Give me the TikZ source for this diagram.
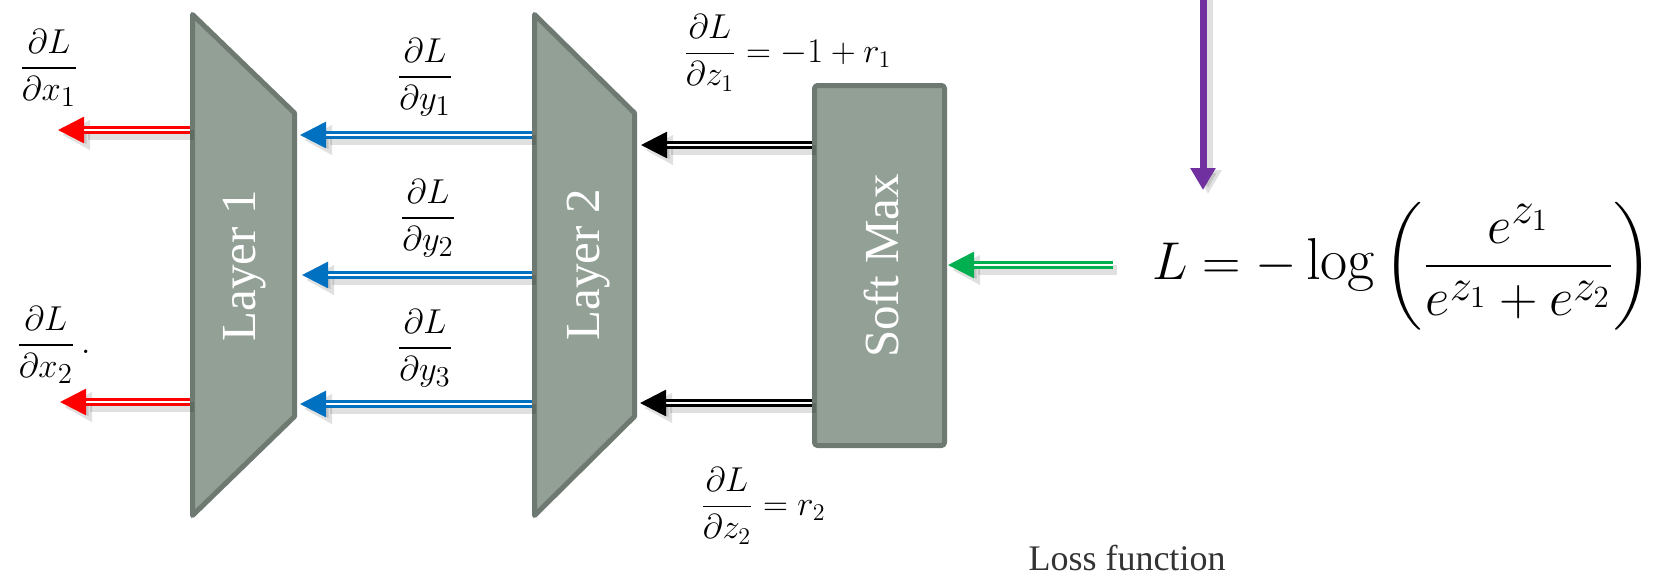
\documentclass[tikz,border=0pt]{standalone}
\usepackage{fontspec}
\usepackage{amsmath}
\usepackage{graphicx}
\newfontfamily\tnr{Liberation Serif}
\usetikzlibrary{arrows.meta}
\definecolor{layfill}{HTML}{92A096}
\definecolor{laydraw}{HTML}{6E7A71}
\definecolor{ared}{HTML}{FF0000}
\definecolor{ablue}{HTML}{0070C0}
\definecolor{agreen}{HTML}{00B050}
\definecolor{apurple}{HTML}{7030A0}
\definecolor{losstext}{HTML}{333333}
\begin{document}
\begin{tikzpicture}[x=0.5pt,y=-0.5pt,
  layer/.style={fill=layfill,draw=laydraw,line width=2.5pt,line join=round},
  laylabel/.style={rotate=90,text=white,inner sep=0pt,font=\tnr\fontsize{24.5}{27}\selectfont},
  dbl/.style={double=white,line width=1.35pt,double distance=1.3pt,-{Triangle[length=13pt,width=13pt]}},
  shad/.style={draw=black,opacity=0.12,line width=5pt,-{Triangle[length=14pt,width=14pt]}},
  lab/.style={inner sep=0pt,font=\fontsize{19}{22}\selectfont},
]
\useasboundingbox (0,0) rectangle (1665,575);

% layers
\draw[layer] (192.5,14.5) -- (294.5,113) -- (294.5,416.5) -- (192.5,515.5) -- cycle;
\draw[layer] (534.5,14.5) -- (634.5,113) -- (634.5,416.5) -- (534.5,515.5) -- cycle;
\node[laylabel] (l1) at (245,266) {Layer 1};
\node[laylabel] (l2) at (589,265) {Layer 2};
\node[layer,rounded corners=1.5pt,minimum width=65pt,minimum height=180pt,inner sep=0pt] (sm) at (879.5,265.5) {};
\node[laylabel] (smlab) at (881,266) {Soft Max};

% connector end points
\coordinate (l1L1) at (190,130);  \coordinate (o1) at (58,130);
\coordinate (l1L2) at (190,402);  \coordinate (o2) at (60,402);
\coordinate (l2L1) at (532,135);  \coordinate (l1R1) at (300,135);
\coordinate (l2L2) at (532,275);  \coordinate (l1R2) at (302,275);
\coordinate (l2L3) at (532,404);  \coordinate (l1R3) at (300,404);
\coordinate (smW1) at (812,145);  \coordinate (l2R1) at (641,145);
\coordinate (smW2) at (812,403);  \coordinate (l2R2) at (640,403);
\coordinate (gst) at (1113,265);  \coordinate (smE) at (948,265);
\coordinate (ptop) at (1203,-10); \coordinate (ptip) at (1203,190);

% shadows
\foreach \a/\b in {l1L1/o1,l1L2/o2,l2L1/l1R1,l2L2/l1R2,l2L3/l1R3,smW1/l2R1,smW2/l2R2,gst/smE}{
  \draw[shad] ([shift={(4,5)}]\a) -- ([shift={(4,5)}]\b);
}
\draw[draw=black,opacity=0.12,line width=4.5pt,-{Triangle[length=12pt,width=13pt]}] ([shift={(5,4)}]ptop) -- ([shift={(5,4)}]ptip);

% arrows
\draw[dbl,ared] (l1L1) -- (o1);
\draw[dbl,ared] (l1L2) -- (o2);
\draw[dbl,ablue] (l2L1) -- (l1R1);
\draw[dbl,ablue] (l2L2) -- (l1R2);
\draw[dbl,ablue] (l2L3) -- (l1R3);
\draw[dbl,black] (smW1) -- (l2R1);
\draw[dbl,black] (smW2) -- (l2R2);
\draw[dbl,agreen] (gst) -- (smE);
\draw[apurple,line width=3.5pt,-{Triangle[length=11pt,width=12pt]}] (ptop) -- (ptip);

% labels
\node[lab] (dx1) at (49,68) {$\dfrac{\partial L}{\partial x_1}$};
\node[lab,anchor=west] (dx2) at (16,345) {$\dfrac{\partial L}{\partial x_2}\,.$};
\node[lab] (dy1) at (425,77) {$\dfrac{\partial L}{\partial y_1}$};
\node[lab] (dy2) at (428,218) {$\dfrac{\partial L}{\partial y_2}$};
\node[lab] (dy3) at (425,348) {$\dfrac{\partial L}{\partial y_3}$};
\node[lab,anchor=west,font=\fontsize{18.5}{22}\selectfont] (dz1) at (683,53) {$\dfrac{\partial L}{\partial z_1} = -1 + r_1$};
\node[lab,anchor=west,font=\fontsize{18.5}{22}\selectfont] (dz2) at (700,506) {$\dfrac{\partial L}{\partial z_2} = r_2$};
\node[anchor=west,inner sep=0pt,font=\fontsize{27.6}{32}\selectfont] (loss) at (1152,266)
  {\scalebox{1.07}{$\displaystyle L = -\log\left(\frac{e^{z_1}}{e^{z_1}+e^{z_2}}\right)$}};
\node[anchor=base,inner sep=0pt,text=losstext,font=\tnr\fontsize{18}{21}\selectfont] (lossf) at (1127,570) {Loss function};
\end{tikzpicture}
\end{document}
